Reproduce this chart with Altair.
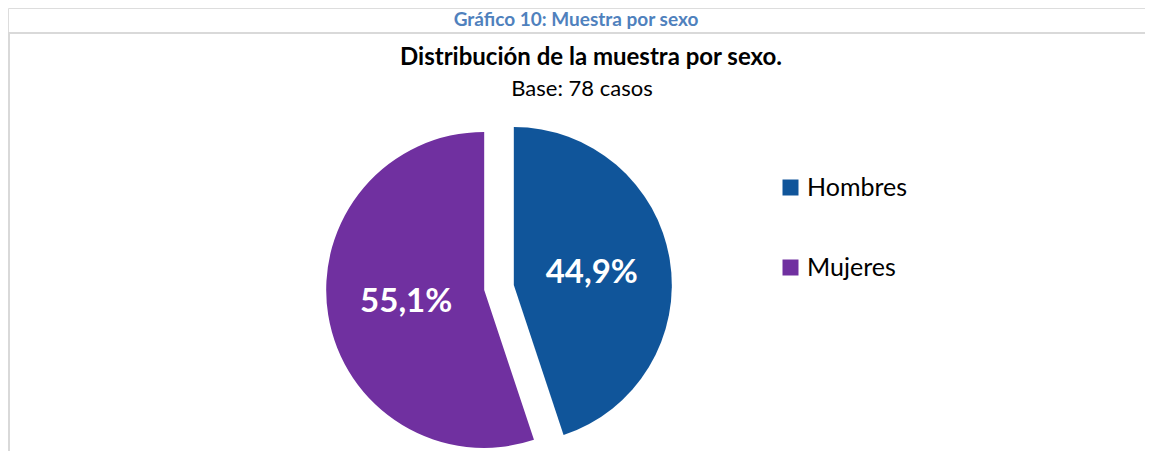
import altair as alt
import pandas as pd

# ---- data ----
categories = ["Hombres", "Mujeres"]
percentages = [44.9, 55.1]
orders = [0, 1]
colors = ["#10559A", "#7030A0"]
title_main = ["Gráfico 10: Muestra por sexo"]
title_chart = ["Distribución de la muestra por sexo."]
subtitle = ["Base: 78 casos"]

df = pd.DataFrame({"sexo": categories, "pct": percentages, "orden": orders})

W, H = 1137, 443
CX, CY, R = 491, 279.5, 158
EXPLODE = 15
LABEL_R = 94
FONT = "Lato"

geo = (
    alt.Chart(df)
    .transform_stack(stack="pct", groupby=[], as_=["p0", "p1"],
                     sort=[alt.SortField("orden", order="ascending")])
    .transform_joinaggregate(total="sum(pct)")
    .transform_calculate(
        mid="((datum.p0 + datum.p1) / 2) / datum.total * 2 * PI",
        ax=f"{CX} + {EXPLODE} * sin(datum.mid)",
        ay=f"{CY} - {EXPLODE} * cos(datum.mid)",
        lx=f"{CX} + {LABEL_R} * sin(datum.mid)",
        ly=f"{CY} - {LABEL_R} * cos(datum.mid)",
        lab="replace(format(datum.pct, '.1f'), '.', ',') + '%'",
    )
)

pie = geo.mark_arc(radius=R).encode(
    theta=alt.Theta("pct:Q", stack=True),
    order=alt.Order("orden:Q"),
    x=alt.X("ax:Q", scale=None, axis=None),
    y=alt.Y("ay:Q", scale=None, axis=None),
    color=alt.Color(
        "sexo:N",
        scale=alt.Scale(domain=categories, range=colors),
        legend=alt.Legend(
            title=None,
            orient="none",
            legendX=770,
            legendY=167,
            direction="vertical",
            symbolType="square",
            symbolSize=256,
            symbolStrokeWidth=0,
            symbolOpacity=1,
            labelFont=FONT,
            labelFontSize=25,
            labelColor="#000000",
            labelOffset=4,
            rowPadding=54,
        ),
    ),
)

labels = geo.mark_text(
    font=FONT, fontSize=33, fontWeight="bold", color="white",
    align="center", baseline="middle",
).encode(
    x=alt.X("lx:Q", scale=None, axis=None),
    y=alt.Y("ly:Q", scale=None, axis=None),
    text="lab:N",
)

edge_df = pd.DataFrame({"k": [0]})
border_top = alt.Chart(edge_df).mark_rule(color="#D9D9D9", strokeWidth=2).encode(
    x=alt.value(0), x2=alt.value(W), y=alt.value(25)
)
border_left = alt.Chart(edge_df).mark_rule(color="#D9D9D9", strokeWidth=2).encode(
    x=alt.value(1), y=alt.value(25), y2=alt.value(H)
)

t1 = alt.Chart(pd.DataFrame({"t": title_main})).mark_text(
    font=FONT, fontSize=19, fontWeight="bold", color="#4F81BD",
    align="center", baseline="middle",
).encode(text="t:N", x=alt.value(568), y=alt.value(12))

t2 = alt.Chart(pd.DataFrame({"t": title_chart})).mark_text(
    font=FONT, fontSize=24, fontWeight="bold", color="#000000",
    align="center", baseline="middle",
).encode(text="t:N", x=alt.value(583), y=alt.value(50))

t3 = alt.Chart(pd.DataFrame({"t": subtitle})).mark_text(
    font=FONT, fontSize=22, color="#000000",
    align="center", baseline="middle",
).encode(text="t:N", x=alt.value(574), y=alt.value(81))

chart = (
    alt.layer(border_top, border_left, pie, labels, t1, t2, t3)
    .properties(width=W, height=H, padding=0, autosize=alt.AutoSizeParams(type="none"))
    .configure_view(stroke=None, strokeWidth=0)
    .configure(background="white")
)

chart.save("out.html", embed_options={"renderer": "svg", "actions": False})
